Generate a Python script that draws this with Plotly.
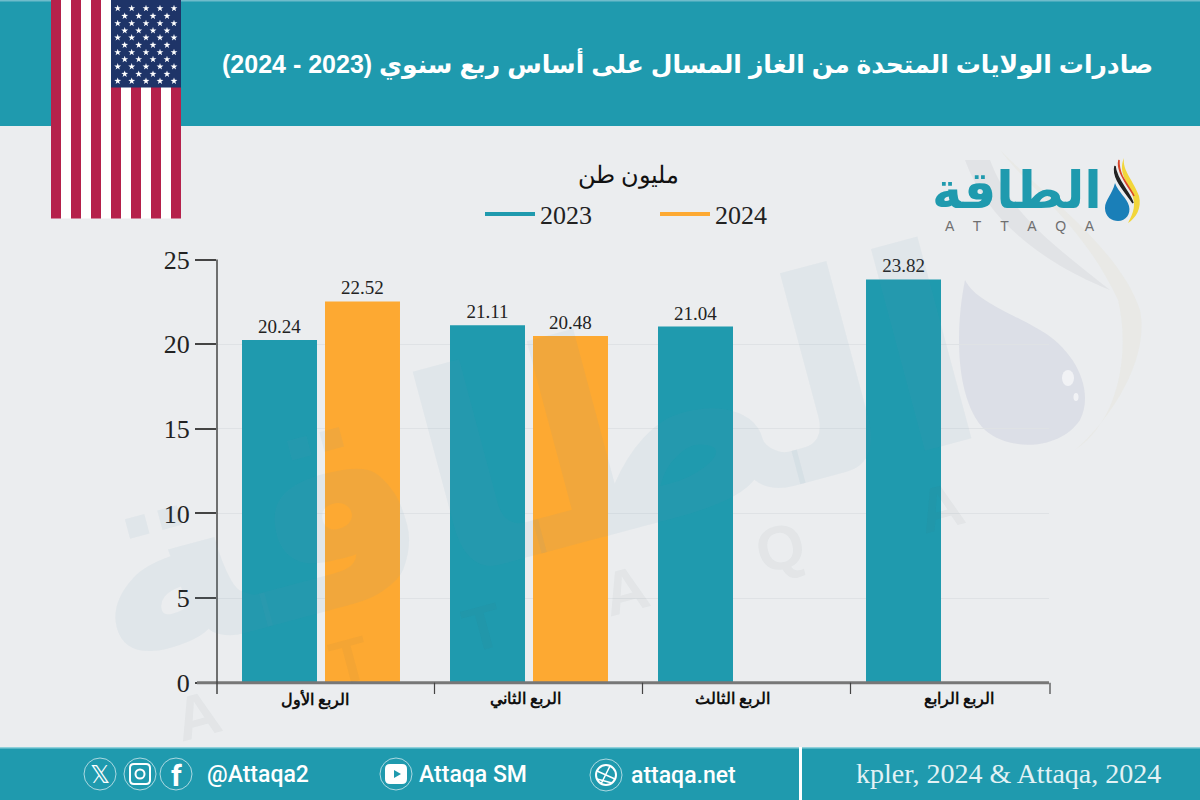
import math
import plotly.graph_objects as go

# ---- data ----
quarters = ["الربع الأول", "الربع الثاني", "الربع الثالث", "الربع الرابع"]
values_2023 = [20.24, 21.11, 21.04, 23.82]
values_2024 = [22.52, 20.48, None, None]
y_ticks = [0, 5, 10, 15, 20, 25]
title_text = "صادرات الولايات المتحدة من الغاز المسال على أساس ربع سنوي (2023 - 2024)"
unit_text = "مليون طن"
source_text = "kpler, 2024 &amp; Attaqa, 2024"

TEAL = "#1f9aae"
ORANGE = "#fda932"
BG = "#ebedef"
RED = "#b5214b"
NAVY = "#1e3468"
SERIF = "Liberation Serif, DejaVu Serif, serif"
SANS = "Liberation Sans, DejaVu Sans, sans-serif"
W, H = 1200, 800


def fx(x):
    return x / W


def fy(y):
    return 1 - y / H


shapes = []
annots = []


def rect(x0, y0, x1, y1, color, layer="below"):
    shapes.append(dict(type="rect", xref="paper", yref="paper", x0=fx(x0), x1=fx(x1), y0=fy(y1), y1=fy(y0),
                       fillcolor=color, line_width=0, layer=layer))


def line(x0, y0, x1, y1, color, width, layer="above"):
    shapes.append(dict(type="line", xref="paper", yref="paper", x0=fx(x0), x1=fx(x1), y0=fy(y0), y1=fy(y1),
                       line=dict(color=color, width=width), layer=layer))


def path(d, fill="rgba(0,0,0,0)", lcolor="rgba(0,0,0,0)", lw=0, layer="above"):
    out = []
    for tok in d.split():
        if "," in tok:
            cmd = ""
            if tok[0].isalpha():
                cmd, tok = tok[0], tok[1:]
            a, b = tok.split(",")
            out.append(f"{cmd}{fx(float(a)):.5f},{fy(float(b)):.5f}")
        else:
            out.append(tok)
    shapes.append(dict(type="path", xref="paper", yref="paper", path=" ".join(out), fillcolor=fill,
                       line=dict(color=lcolor, width=lw), layer=layer))


def circle(cx, cy, r, fill="rgba(0,0,0,0)", lcolor="rgba(0,0,0,0)", lw=0, layer="above", ry=None):
    ry = ry or r
    shapes.append(dict(type="circle", xref="paper", yref="paper", x0=fx(cx - r), x1=fx(cx + r), y0=fy(cy + ry),
                       y1=fy(cy - ry), fillcolor=fill, line=dict(color=lcolor, width=lw), layer=layer))


def text(x, y, s, size, color="#111", family=SERIF, anchor="center", weight=None, angle=0):
    f = dict(size=size, color=color, family=family)
    if weight:
        f["weight"] = weight
    a = dict(xref="paper", yref="paper", x=fx(x), y=fy(y), text=s, showarrow=False, font=f,
             xanchor=anchor, yanchor="middle", textangle=angle)
    annots.append(a)


# ---- panels ----
rect(0, 0, W, H, BG)
rect(0, 0, W, 126, TEAL)
rect(0, 0, W, 1.5, "#6fbccb")
rect(0, 747, W, H, TEAL)
rect(0, 747, W, 748.5, "#8fd0da")
rect(799, 747, 802, H, "#ffffff")

# ---- faint drop watermark ----
WM = "rgba(120,135,175,0.13)"
path("M965,280 C955,330 955,400 985,430 C1010,452 1060,450 1080,420 C1095,390 1075,350 1040,330 C1005,310 975,300 965,280 Z", WM, layer="below")
path("M965,160 C990,230 1060,270 1110,290 C1060,250 1010,215 990,160 Z", "rgba(120,120,130,0.08)", layer="below")
path("M1000,150 C1030,190 1080,220 1118,300 C1130,350 1120,420 1075,450 C1110,420 1150,360 1140,310 C1120,250 1050,200 1000,150 Z", "rgba(215,210,160,0.10)", layer="below")
circle(1068, 378, 6, "rgba(255,255,255,0.6)", layer="below", ry=8)
circle(1076, 397, 2.5, "rgba(255,255,255,0.6)", layer="below", ry=4)

# ---- flag ----
for i in range(13):
    rect(51 + i * 10, 0, 61 + i * 10, 218.5, RED if i % 2 == 0 else "#ffffff", layer="above")
rect(111, 0, 181, 87.5, NAVY, layer="above")
star_rows = [8.3, 16, 23.3, 30.7, 37.7, 45, 52.3, 59.3, 66.7, 74, 81]
star_d = []
for r, yy in enumerate(star_rows):
    cols = [117.7, 131.7, 146, 160, 174] if r % 2 == 0 else [124.7, 138.7, 153, 167]
    for xx in cols:
        pts = []
        for k in range(10):
            rad = 3.6 if k % 2 == 0 else 1.4
            ang = -math.pi / 2 + k * math.pi / 5
            pts.append(f"{xx + rad * math.cos(ang):.2f},{yy + rad * math.sin(ang):.2f}")
        star_d.append("M" + " L".join(pts) + " Z")
path(" ".join(star_d), "#ffffff")

# ---- header, unit ----
text(1155, 64, title_text, 25, "#ffffff", SANS, "right", weight=700)
text(628, 176, unit_text, 24, "#111", SERIF)

# ---- logo ----
text(1017, 190, "الطاقة", 51, TEAL, SANS, weight=700)
text(1020, 226, "A     T     T     A     Q     A", 14, "#6f6f6f", SANS)
path("M1115,183 C1112,195 1105,200 1105,208 C1105,217 1112,221 1118,221 C1126,221 1131,214 1129,206 C1127,198 1118,192 1115,183 Z", "#1a7fb8")
path("M1124,158 C1122,170 1133,180 1139,196 C1142,208 1136,218 1128,223 C1134,212 1136,204 1132,194 C1127,182 1118,172 1124,158 Z", "#f2d63a")
path("M1119,160 C1116,172 1128,184 1134,196 C1130,188 1118,176 1119,160 Z", "#d9452b", "#d9452b", 1.5)
path("M1115,166 C1112,178 1124,190 1133,203 C1130,192 1116,180 1115,166 Z", "#222222", "#222222", 1.5)

# ---- large faint logo watermark, drawn over the bars as in the reference ----
WMT = "rgba(97,150,176,0.08)"
text(527, 458, "الطاقة", 275, WMT, SANS, weight=700, angle=-15)
for lx, ly, ch in [(197, 715, "A"), (350, 660, "T"), (483, 627, "T"), (625, 590, "A"), (780, 547, "Q"), (940, 507, "A")]:
    text(lx, ly, ch, 62, "rgba(80,90,100,0.05)", SANS, weight=700, angle=-15)

# ---- category labels, placed through the x scale ----
label_shift = [-6, -4, -5, 14]
for q, dx in zip(quarters, label_shift):
    annots.append(dict(xref="x", yref="paper", x=q, y=fy(699), xshift=dx, text=q, showarrow=False,
                       xanchor="center", yanchor="middle",
                       font=dict(size=16, color="#111", family=SERIF, weight=700)))

# ---- axis extras ----
line(197, 682.7, 1049, 682.7, "#777777", 3)
line(217, 259.5, 217, 694, "#444444", 1.5)
for tx in [434.5, 642.5, 850.5, 1050]:
    line(tx, 682.7, tx, 694, "#444444", 1.2)

# ---- footer ----
rc = "#cfe9ee"
for cx, cy in [(100, 774), (140, 774), (176, 774), (396, 774), (606, 775)]:
    circle(cx, cy, 16, lcolor=rc, lw=0.8)
text(100, 774, "𝕏", 25, "#ffffff", "DejaVu Sans")
path("M130,768 Q130,764 134,764 L146,764 Q150,764 150,768 L150,780 Q150,784 146,784 L134,784 Q130,784 130,780 Z", lcolor="#ffffff", lw=2)
circle(140, 774, 4.5, lcolor="#ffffff", lw=2)
text(176, 775, "f", 30, "#ffffff", "Roboto", weight=700)
path("M385,769 Q385,764 390,764 L402,764 Q407,764 407,769 L407,779 Q407,784 402,784 L390,784 Q385,784 385,779 Z", "#ffffff")
path("M394,770 L401,774 L394,778 Z", TEAL)
circle(606, 775, 10, lcolor="#ffffff", lw=2)
line(597, 771, 615, 779, "#ffffff", 1.5)
line(601, 784, 610, 766, "#ffffff", 1.5)
line(597, 779, 612, 783, "#ffffff", 1.5)
text(205, 774, "@Attaqa2", 23, "#ffffff", "Roboto", "left", weight=500)
text(417, 774, "Attaqa SM", 23, "#ffffff", "Roboto", "left", weight=500)
text(629, 775, "attaqa.net", 23, "#ffffff", "Roboto", "left", weight=500)
text(1163, 773, source_text, 28, "#e3f2f5", SERIF, "right")

# ---- figure ----
fig = go.Figure()
label_font = dict(family=SERIF, size=19, color="#222222")
clear_edge = dict(color="rgba(0,0,0,0)", width=3)
fig.add_bar(x=quarters, y=values_2023, name="2023", marker=dict(color=TEAL, line=clear_edge), showlegend=False,
            text=[f"{v:.2f}" for v in values_2023], textposition="outside", textfont=label_font, cliponaxis=False)
fig.add_bar(x=quarters, y=values_2024, name="2024", marker=dict(color=ORANGE, line=clear_edge), showlegend=False,
            text=[f"{v:.2f}" if v is not None else "" for v in values_2024], textposition="outside",
            textfont=label_font, cliponaxis=False)
# legend keys are short lines in the reference
fig.add_scatter(x=[None], y=[None], mode="lines", name="2023", line=dict(color=TEAL, width=4))
fig.add_scatter(x=[None], y=[None], mode="lines", name="2024", line=dict(color=ORANGE, width=4))

fig.update_layout(
    width=W, height=H, margin=dict(l=0, r=0, t=0, b=0, autoexpand=False), autosize=False,
    paper_bgcolor=BG, plot_bgcolor="rgba(0,0,0,0)",
    barmode="group", bargap=0.202, bargroupgap=0.0964,
    shapes=shapes, annotations=annots,
    legend=dict(orientation="h", x=480 / W, y=fy(214), xanchor="left", yanchor="middle", itemwidth=50,
                entrywidth=110, entrywidthmode="pixels", font=dict(family=SERIF, size=26, color="#222222"),
                bgcolor="rgba(0,0,0,0)"),
    xaxis=dict(domain=[217 / W, 1049 / W], type="category", categoryorder="array", categoryarray=quarters,
               showticklabels=False, ticks="", showgrid=False, zeroline=False, showline=False, anchor="y"),
    yaxis=dict(domain=[fy(682.7), fy(259.5)], range=[0, 25], tickvals=y_ticks, ticks="outside", ticklen=21,
               tickwidth=1.5, tickcolor="#444444", ticklabelstandoff=0, showline=False, zeroline=False,
               showgrid=True, gridcolor="#dfe2e5", gridwidth=1,
               tickfont=dict(family=SERIF, size=26, color="#222222"), anchor="x"),
)
fig.write_html("out.html", config={"displayModeBar": False},
               post_script="document.body.style.margin='0';document.body.style.overflow='hidden';")
